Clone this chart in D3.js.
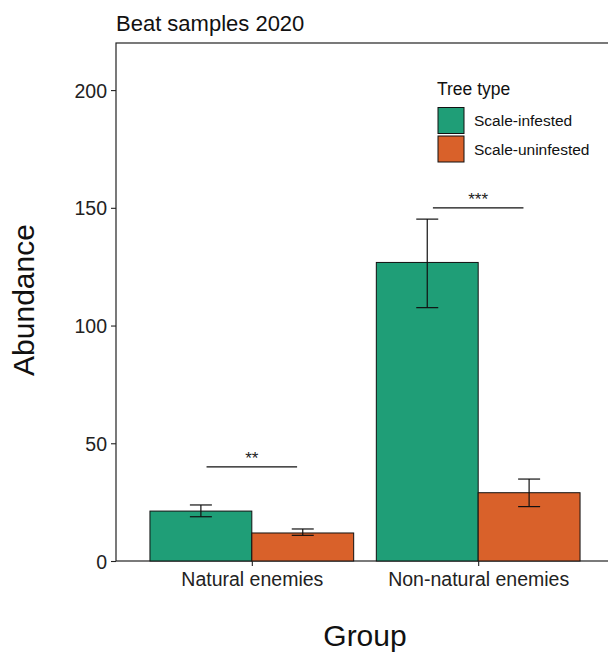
<!DOCTYPE html>
<html>
<head>
<meta charset="utf-8">
<script src="https://cdn.jsdelivr.net/npm/d3@7"></script>
<style>
  body { margin: 0; background: #fff; }
  svg { display: block; font-family: "Liberation Sans", Arial, sans-serif; }
</style>
</head>
<body>
<div id="chart"></div>
<script>
// data
const groups = ["Natural enemies", "Non-natural enemies"];
const treeTypes = ["Scale-infested", "Scale-uninfested"];
const colors = ["#1F9E77", "#D9612A"];
const means = [[21.2, 11.9], [126.8, 29.0]];
const lower = [[18.8, 10.9], [107.6, 23.1]];
const upper = [[23.8, 13.6], [145.2, 34.8]];
const sigLabels = ["**", "***"];
const sigHeights = [40, 150];
const yTicks = [0, 50, 100, 150, 200];

const W = 608, H = 654;
const panel = { left: 116, right: 614, top: 43, bottom: 561 };

const svg = d3.select("#chart").append("svg")
    .attr("width", W)
    .attr("height", H);

const x = d3.scalePoint()
    .domain(groups)
    .range([panel.left, panel.right])
    .padding(0.6);

const step = x.step();

const xSub = d3.scaleBand()
    .domain(treeTypes)
    .range([-0.45 * step, 0.45 * step]);

const y = d3.scaleLinear()
    .domain([0, 220])
    .range([panel.bottom, panel.top]);

// panel border
svg.append("rect")
    .attr("x", panel.left)
    .attr("y", panel.top)
    .attr("width", panel.right - panel.left)
    .attr("height", panel.bottom - panel.top)
    .attr("fill", "none")
    .attr("stroke", "#222")
    .attr("stroke-width", 1.2);

// bars
const rows = [];
groups.forEach((g, i) => treeTypes.forEach((t, j) => {
    rows.push({ g, t, j, mean: means[i][j], lo: lower[i][j], hi: upper[i][j] });
}));

svg.selectAll(".bar")
    .data(rows)
    .enter().append("rect")
    .attr("class", "bar")
    .attr("x", d => x(d.g) + xSub(d.t))
    .attr("y", d => y(d.mean))
    .attr("width", xSub.bandwidth())
    .attr("height", d => y(0) - y(d.mean))
    .attr("fill", d => colors[d.j])
    .attr("stroke", "#111")
    .attr("stroke-width", 1);

// error bars
const cap = 11;
const cx = d => x(d.g) + xSub(d.t) + xSub.bandwidth() / 2;
const eb = svg.selectAll(".err")
    .data(rows)
    .enter().append("g")
    .attr("class", "err")
    .attr("stroke", "#111")
    .attr("stroke-width", 1.2);

eb.append("line")
    .attr("x1", cx)
    .attr("x2", cx)
    .attr("y1", d => y(d.lo))
    .attr("y2", d => y(d.hi));
eb.append("line")
    .attr("x1", d => cx(d) - cap)
    .attr("x2", d => cx(d) + cap)
    .attr("y1", d => y(d.hi))
    .attr("y2", d => y(d.hi));
eb.append("line")
    .attr("x1", d => cx(d) - cap)
    .attr("x2", d => cx(d) + cap)
    .attr("y1", d => y(d.lo))
    .attr("y2", d => y(d.lo));

// significance brackets
groups.forEach((g, i) => {
    svg.append("line")
        .attr("x1", x(g) - 0.2 * step)
        .attr("x2", x(g) + 0.2 * step)
        .attr("y1", y(sigHeights[i]))
        .attr("y2", y(sigHeights[i]))
        .attr("stroke", "#111")
        .attr("stroke-width", 1.2);
    svg.append("text")
        .attr("x", x(g))
        .attr("y", y(sigHeights[i]) - 3)
        .attr("text-anchor", "middle")
        .style("font-size", "17px")
        .attr("fill", "#222")
        .text(sigLabels[i]);
});

// axes
const yAxis = svg.append("g")
    .attr("transform", `translate(${panel.left},0)`)
    .call(d3.axisLeft(y).tickValues(yTicks).tickSize(5).tickPadding(4));
const xAxis = svg.append("g")
    .attr("transform", `translate(0,${panel.bottom})`)
    .call(d3.axisBottom(x).tickSize(5).tickPadding(5));

[yAxis, xAxis].forEach(a => {
    a.select(".domain").remove();
    a.selectAll(".tick line").attr("stroke", "#222").attr("stroke-width", 1.1);
    a.selectAll(".tick text")
        .attr("fill", "#222")
        .style("font-family", "Liberation Sans, Arial, sans-serif")
        .style("font-size", "19.5px");
});
yAxis.selectAll(".tick text").attr("dy", "0.36em");
xAxis.selectAll(".tick text").attr("dy", "0.78em");

// titles
svg.append("text")
    .attr("x", panel.left)
    .attr("y", 31)
    .style("font-size", "22px")
    .attr("fill", "#111")
    .text("Beat samples 2020");

svg.append("text")
    .attr("x", 365)
    .attr("y", 646)
    .attr("text-anchor", "middle")
    .style("font-size", "30px")
    .attr("fill", "#111")
    .text("Group");

svg.append("text")
    .attr("transform", "rotate(-90)")
    .attr("x", -300)
    .attr("y", 34)
    .attr("text-anchor", "middle")
    .style("font-size", "30px")
    .attr("fill", "#111")
    .text("Abundance");

// legend
const legend = svg.append("g")
    .attr("transform", "translate(437,82)");

legend.append("text")
    .attr("x", 0)
    .attr("y", 13)
    .style("font-size", "17.5px")
    .attr("fill", "#111")
    .text("Tree type");

const item = legend.selectAll(".legend")
    .data(treeTypes)
    .enter().append("g")
    .attr("class", "legend")
    .attr("transform", (d, i) => `translate(0,${25 + i * 28.5})`);

item.append("rect")
    .attr("x", 1)
    .attr("y", 0.5)
    .attr("width", 26)
    .attr("height", 26)
    .attr("fill", (d, i) => colors[i])
    .attr("stroke", "#111")
    .attr("stroke-width", 1);

item.append("text")
    .attr("x", 37)
    .attr("y", 14)
    .attr("dy", "0.35em")
    .style("font-size", "15.5px")
    .attr("fill", "#111")
    .text(d => d);
</script>
</body>
</html>
